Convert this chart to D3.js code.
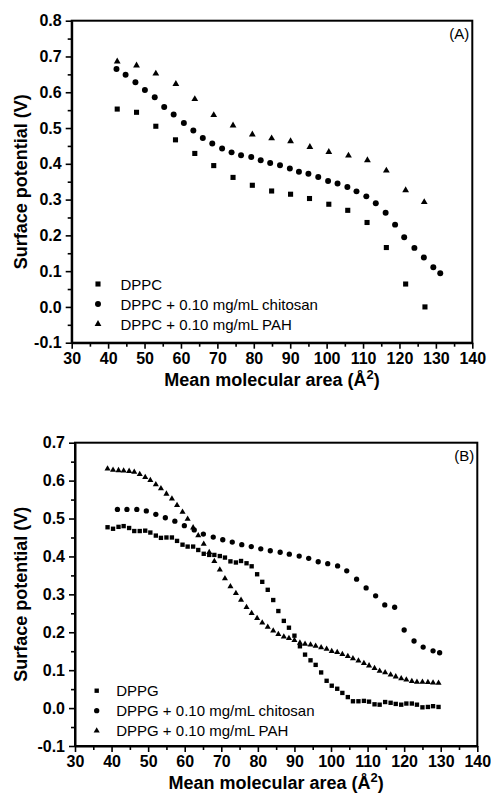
<!DOCTYPE html>
<html>
<head>
<meta charset="utf-8">
<script src="https://cdn.jsdelivr.net/npm/d3@7"></script>
<style>
  body { margin: 0; background: #fff; }
  svg { display: block; font-family: "Liberation Sans", Arial, sans-serif; }
  .frame { fill: none; stroke: #000; stroke-width: 2; }
  .axis path { stroke: #000; stroke-width: 2; }
  .axis line { stroke: #000; stroke-width: 1.6; }
  .axis text { font-size: 16px; font-weight: bold; fill: #000; font-family: "Liberation Sans", Arial, sans-serif; }
  .title { font-size: 18px; font-weight: bold; }
  .legend text { font-size: 15px; }
</style>
</head>
<body>
<div id="chart"></div>
<script>
// ---- panel A data (DPPC) ----
var areaA_DPPC = [42.5, 47.8, 53.1, 58.5, 63.8, 69.0, 74.3, 79.6, 84.9, 90.1, 95.3, 100.6, 105.8, 111.1, 116.4, 121.7, 127.0];
var potA_DPPC  = [0.553, 0.544, 0.505, 0.467, 0.429, 0.395, 0.362, 0.340, 0.324, 0.315, 0.303, 0.287, 0.270, 0.236, 0.166, 0.064, 0.000];

var areaA_chit = [42.3, 44.8, 47.5, 50.1, 52.8, 55.4, 58.0, 60.8, 63.4, 66.0, 68.6, 71.3, 73.9, 76.5, 79.3,
                  81.9, 84.5, 87.2, 89.9, 92.4, 95.0, 97.7, 100.4, 103.0, 105.7, 108.2, 110.9, 113.5, 116.2,
                  118.8, 121.3, 124.1, 126.7, 129.3, 131.2];
var potA_chit  = [0.665, 0.649, 0.628, 0.606, 0.586, 0.559, 0.538, 0.514, 0.493, 0.472, 0.457, 0.443, 0.432, 0.424, 0.419,
                  0.410, 0.402, 0.396, 0.387, 0.378, 0.372, 0.363, 0.352, 0.345, 0.335, 0.323, 0.309, 0.290, 0.263,
                  0.230, 0.195, 0.165, 0.138, 0.111, 0.094];

var areaA_PAH = [42.5, 47.8, 53.1, 58.6, 63.8, 69.0, 74.3, 79.6, 84.9, 90.1, 95.4, 100.6, 106.0, 111.2, 116.4, 121.7, 126.8];
var potA_PAH  = [0.686, 0.675, 0.652, 0.623, 0.581, 0.536, 0.507, 0.482, 0.471, 0.463, 0.447, 0.433, 0.423, 0.410, 0.381, 0.326, 0.293];

// ---- panel B data (DPPG) ----
var areaB_fine = [38.9, 40.4, 41.9, 43.3, 44.8, 46.2, 47.7, 49.2, 50.6, 52.1,
                  53.5, 55.0, 56.5, 57.9, 59.4, 60.8, 62.3, 63.7, 65.2, 66.7,
                  68.1, 69.6, 71.0, 72.5, 74.0, 75.4, 76.9, 78.3, 79.8, 81.2,
                  82.7, 84.2, 85.6, 87.1, 88.5, 90.0, 91.5, 92.9, 94.4, 95.8,
                  97.3, 98.8, 100.2, 101.7, 103.1, 104.6, 106.0, 107.5, 109.0, 110.4,
                  111.9, 113.3, 114.8, 116.3, 117.7, 119.2, 120.6, 122.1, 123.5, 125.0,
                  126.5, 127.9, 129.4];
var potB_DPPG = [0.477, 0.473, 0.478, 0.480, 0.475, 0.467, 0.467, 0.468, 0.463, 0.455,
                 0.449, 0.450, 0.450, 0.441, 0.431, 0.426, 0.426, 0.417, 0.407, 0.404,
                 0.404, 0.401, 0.397, 0.387, 0.384, 0.388, 0.382, 0.374, 0.353, 0.333,
                 0.312, 0.285, 0.256, 0.230, 0.212, 0.191, 0.163, 0.141, 0.126, 0.114,
                 0.094, 0.072, 0.059, 0.051, 0.040, 0.029, 0.018, 0.018, 0.019, 0.017,
                 0.010, 0.009, 0.016, 0.014, 0.011, 0.009, 0.012, 0.012, 0.009, 0.002,
                 0.003, 0.005, 0.003];
var potB_PAH = [0.631, 0.628, 0.627, 0.626, 0.625, 0.623, 0.617, 0.609, 0.601, 0.590,
                0.579, 0.565, 0.552, 0.535, 0.517, 0.499, 0.476, 0.455, 0.433, 0.411,
                0.387, 0.365, 0.342, 0.321, 0.303, 0.285, 0.266, 0.250, 0.237, 0.225,
                0.214, 0.204, 0.195, 0.188, 0.184, 0.179, 0.172, 0.169, 0.167, 0.164,
                0.160, 0.156, 0.150, 0.147, 0.142, 0.137, 0.131, 0.125, 0.118, 0.112,
                0.105, 0.098, 0.094, 0.088, 0.083, 0.078, 0.075, 0.071, 0.069, 0.069,
                0.068, 0.067, 0.066];

var areaB_chit = [41.6, 44.2, 46.9, 49.5, 52.1, 54.7, 57.3, 59.9, 62.6, 65.1,
                  67.8, 70.4, 73.0, 75.6, 78.2, 80.8, 83.4, 86.1, 88.6, 91.3,
                  93.9, 96.5, 99.1, 101.8, 104.3, 107.0, 109.6, 112.2, 114.7, 117.4,
                  120.0, 122.7, 125.2, 127.9, 129.7];
var potB_chit  = [0.524, 0.524, 0.524, 0.520, 0.511, 0.502, 0.493, 0.481, 0.470, 0.459,
                  0.451, 0.444, 0.438, 0.431, 0.426, 0.420, 0.415, 0.411, 0.406, 0.401,
                  0.395, 0.386, 0.381, 0.375, 0.362, 0.340, 0.317, 0.296, 0.272, 0.266,
                  0.206, 0.177, 0.161, 0.151, 0.146];

// ---- labels / ticks ----
var xTicks = [30, 40, 50, 60, 70, 80, 90, 100, 110, 120, 130, 140];
var yTicksA = [-0.1, 0.0, 0.1, 0.2, 0.3, 0.4, 0.5, 0.6, 0.7, 0.8];
var yTicksB = [-0.1, 0.0, 0.1, 0.2, 0.3, 0.4, 0.5, 0.6, 0.7];
var legendA = ["DPPC", "DPPC + 0.10 mg/mL chitosan", "DPPC + 0.10 mg/mL PAH"];
var legendB = ["DPPG", "DPPG + 0.10 mg/mL chitosan", "DPPG + 0.10 mg/mL PAH"];

var svg = d3.select("#chart").append("svg")
    .attr("width", 491)
    .attr("height", 794);

function zip(xs, ys) {
  return xs.map(function (x, i) { return { x: x, y: ys[i] }; });
}

function drawPanel(p) {
  var x = d3.scaleLinear().domain([30, 140]).range([p.left, p.right]);
  var y = d3.scaleLinear().domain([p.yTicks[0], p.yTicks[p.yTicks.length - 1]]).range([p.bottom, p.top]);

  var minorX = d3.range(35, 140, 10);
  var minorY = p.yTicks.slice(0, -1).map(function (t) { return t + 0.05; });

  // minor ticks
  svg.append("g").attr("class", "axis")
      .attr("transform", "translate(0," + p.bottom + ")")
      .call(d3.axisBottom(x).tickValues(minorX).tickSize(4).tickSizeOuter(0).tickFormat(""))
      .select(".domain").remove();
  svg.append("g").attr("class", "axis")
      .attr("transform", "translate(" + p.left + ",0)")
      .call(d3.axisLeft(y).tickValues(minorY).tickSize(4).tickSizeOuter(0).tickFormat(""))
      .select(".domain").remove();

  // major ticks
  var gx = svg.append("g").attr("class", "axis")
      .attr("transform", "translate(0," + p.bottom + ")")
      .call(d3.axisBottom(x).tickValues(xTicks).tickSize(6).tickSizeOuter(0).tickPadding(4));
  gx.selectAll("text").attr("dy", "0.71em");
  svg.append("g").attr("class", "axis")
      .attr("transform", "translate(" + p.left + ",0)")
      .call(d3.axisLeft(y).tickValues(p.yTicks).tickSize(6).tickSizeOuter(0).tickPadding(4)
        .tickFormat(function (d) { return d.toFixed(1); }));

  // frame
  svg.append("rect").attr("class", "frame")
      .attr("x", p.left).attr("y", p.top)
      .attr("width", p.right - p.left).attr("height", p.bottom - p.top);

  // series
  var series = [
    { data: zip(p.xs[0], p.ys[0]), type: d3.symbolSquare, size: p.sizes[0] },
    { data: zip(p.xs[1], p.ys[1]), type: d3.symbolCircle, size: p.sizes[1] },
    { data: zip(p.xs[2], p.ys[2]), type: d3.symbolTriangle, size: p.sizes[2] }
  ];
  series.forEach(function (s) {
    svg.append("g").selectAll("path")
        .data(s.data)
        .enter()
        .append("path")
        .attr("d", d3.symbol().type(s.type).size(s.size))
        .attr("transform", function (d) { return "translate(" + x(d.x) + "," + y(d.y) + ")"; })
        .attr("fill", "#000");
  });

  // legend
  var lg = svg.append("g").attr("class", "legend");
  p.legend.forEach(function (name, i) {
    var cy = p.legendY + i * 20;
    lg.append("path")
        .attr("d", d3.symbol().type(series[i].type).size(series[i].size))
        .attr("transform", "translate(" + p.legendX + "," + cy + ")");
    lg.append("text")
        .attr("x", p.legendX + p.legendGap)
        .attr("y", cy + 5.5)
        .text(name);
  });

  // panel tag
  svg.append("text")
      .attr("x", p.right - 3)
      .attr("y", p.top + 18)
      .attr("text-anchor", "end")
      .style("font-size", "15px")
      .text(p.tag);

  // axis titles
  svg.append("text").attr("class", "title")
      .attr("transform", "translate(26.5," + ((p.top + p.bottom) / 2) + ") rotate(-90)")
      .attr("text-anchor", "middle")
      .text("Surface potential (V)");
  var xt = svg.append("text").attr("class", "title")
      .attr("x", (p.left + p.right) / 2)
      .attr("y", p.bottom + 43)
      .attr("text-anchor", "middle");
  xt.append("tspan").text("Mean molecular area (Å");
  xt.append("tspan").attr("dy", -7).style("font-size", "13px").text("2");
  xt.append("tspan").attr("dy", 7).text(")");
}

drawPanel({
  left: 71.7, right: 472.3, top: 20.7, bottom: 342.7,
  yTicks: yTicksA,
  xs: [areaA_DPPC, areaA_chit, areaA_PAH],
  ys: [potA_DPPC, potA_chit, potA_PAH],
  sizes: [26, 28, 20],
  legend: legendA, legendX: 98, legendY: 284, legendGap: 22.5,
  tag: "(A)"
});

drawPanel({
  left: 75, right: 477.3, top: 442.7, bottom: 746,
  yTicks: yTicksB,
  xs: [areaB_fine, areaB_chit, areaB_fine],
  ys: [potB_DPPG, potB_chit, potB_PAH],
  sizes: [19, 22, 16],
  legend: legendB, legendX: 96.7, legendY: 690.7, legendGap: 19.5,
  tag: "(B)"
});
</script>
</body>
</html>
